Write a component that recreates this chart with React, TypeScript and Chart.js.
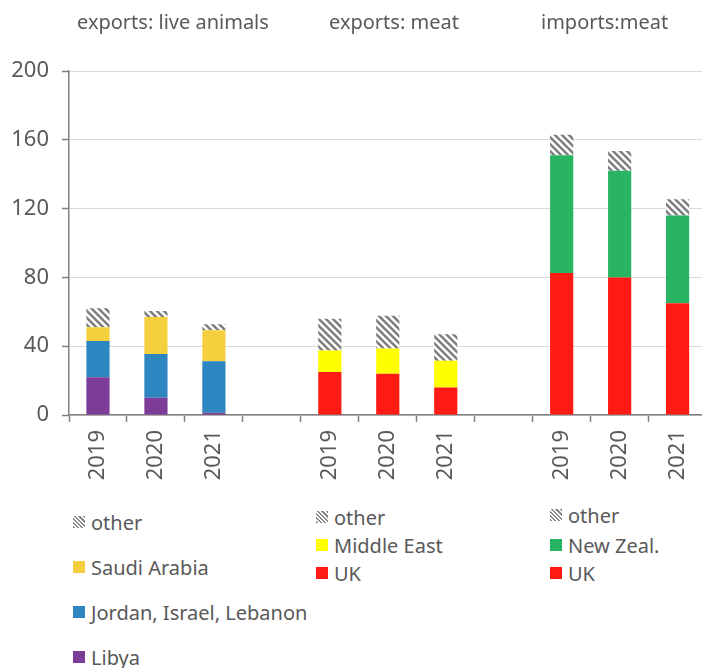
import React, { useEffect, useRef } from "react";
import { Chart, registerables } from "chart.js";

Chart.register(...registerables);

const categories = ["2019", "2020", "2021", "", "2019", "2020", "2021", "", "2019", "2020", "2021"];
const yTicks = [0, 40, 80, 120, 160, 200];

// exports: live animals (2019, 2020, 2021)
const liveLibya = [22, 10, 1.3];
const liveJordan = [21, 25.5, 30];
const liveSaudi = [8, 21.5, 18];
const liveOther = [11, 3.5, 3.5];

// exports: meat
const meatExpUK = [25, 24, 16];
const meatExpMiddleEast = [12.5, 14.7, 15.5];
const meatExpOther = [18.5, 19, 15.5];

// imports: meat
const meatImpUK = [82.5, 80, 65];
const meatImpNZ = [68.5, 62, 51];
const meatImpOther = [12, 11.5, 9.5];

const groupTitles = ["exports: live animals", "exports: meat", "imports:meat"];

const TEXT = "#595959";
const FONT = "'Noto Sans', 'DejaVu Sans', sans-serif";

function place(vals: number[], group: number): (number | null)[] {
  const out: (number | null)[] = categories.map(() => null);
  vals.forEach((v, i) => {
    out[group * 4 + i] = v;
  });
  return out;
}

function makeHatch(): CanvasPattern | string {
  const s = 7;
  const c = document.createElement("canvas");
  c.width = s;
  c.height = s;
  const ctx = c.getContext("2d");
  if (!ctx) return "#888";
  ctx.fillStyle = "#ffffff";
  ctx.fillRect(0, 0, s, s);
  ctx.strokeStyle = "#7f7f7f";
  ctx.lineWidth = 2.6;
  ctx.beginPath();
  ctx.moveTo(-1, -1);
  ctx.lineTo(s + 1, s + 1);
  ctx.moveTo(s - 1, -1);
  ctx.lineTo(s + 1, 1);
  ctx.moveTo(-1, s - 1);
  ctx.lineTo(1, s + 1);
  ctx.stroke();
  const p = ctx.createPattern(c, "repeat");
  return p || "#888";
}

const hatchCss =
  "repeating-linear-gradient(45deg, #8a8a8a 0px, #8a8a8a 1.5px, #ffffff 1.5px, #ffffff 3px)";

type Item = { label: string; color?: string; hatch?: boolean; y: number };

function Legend({ x, items }: { x: number; items: Item[] }) {
  return (
    <>
      {items.map((it, i) => (
        <div
          key={i}
          style={{
            position: "absolute",
            left: x,
            top: it.y - 13,
            height: 26,
            display: "flex",
            alignItems: "center",
            fontFamily: FONT,
            fontSize: 20,
            color: TEXT,
            whiteSpace: "nowrap",
          }}
        >
          <span
            style={{
              display: "inline-block",
              width: 12,
              height: 12,
              marginRight: 6,
              background: it.hatch ? hatchCss : it.color,
            }}
          />
          {it.label}
        </div>
      ))}
    </>
  );
}

export default function App() {
  const ref = useRef<HTMLCanvasElement>(null);

  useEffect(() => {
    if (!ref.current) return;
    const hatch = makeHatch();
    const ds = (label: string, data: (number | null)[], color: any) => ({
      label,
      data,
      backgroundColor: color,
      borderWidth: 0,
      stack: "s",
      categoryPercentage: 1,
      barPercentage: 0.4,
    });
    const chart = new Chart(ref.current, {
      type: "bar",
      data: {
        labels: categories,
        datasets: [
          ds("Libya", place(liveLibya, 0), "#7d3c98"),
          ds("Jordan, Israel, Lebanon", place(liveJordan, 0), "#2e86c1"),
          ds("Saudi Arabia", place(liveSaudi, 0), "#f4d03f"),
          ds("other", place(liveOther, 0), hatch),
          ds("UK", place(meatExpUK, 1), "#ff1a14"),
          ds("Middle East", place(meatExpMiddleEast, 1), "#ffff00"),
          ds("other", place(meatExpOther, 1), hatch),
          ds("UK", place(meatImpUK, 2), "#ff1a14"),
          ds("New Zeal.", place(meatImpNZ, 2), "#28b463"),
          ds("other", place(meatImpOther, 2), hatch),
        ],
      },
      options: {
        animation: false,
        responsive: false,
        maintainAspectRatio: false,
        layout: { padding: { top: 71, left: 0, right: 0, bottom: 0 } },
        plugins: { legend: { display: false }, tooltip: { enabled: false } },
        scales: {
          x: {
            stacked: true,
            offset: true,
            grid: {
              display: true,
              drawOnChartArea: false,
              drawTicks: true,
              tickLength: 7,
              tickColor: "#808080",
              tickWidth: 1.5,
              offset: true,
            },
            border: { color: "#808080", width: 1.5 },
            ticks: {
              autoSkip: false,
              minRotation: 90,
              maxRotation: 90,
              padding: 8,
              color: TEXT,
              font: { family: FONT, size: 22 },
            },
            afterFit: (scale: any) => {
              scale.height = 85;
            },
          },
          y: {
            stacked: true,
            min: 0,
            max: 200,
            afterBuildTicks: (scale: any) => {
              scale.ticks = yTicks.map((v) => ({ value: v }));
            },
            grid: {
              color: "#dadada",
              lineWidth: 1,
              drawTicks: true,
              tickLength: 7,
              tickColor: "#808080",
              tickWidth: 1.5,
            },
            border: { color: "#808080", width: 1.5 },
            ticks: {
              padding: 13,
              color: TEXT,
              font: { family: FONT, size: 22 },
            },
            afterFit: (scale: any) => {
              scale.width = 69;
            },
          },
        },
      },
    });
    return () => chart.destroy();
  }, []);

  const titleXs = [77, 329, 541];

  return (
    <div
      style={{
        position: "absolute",
        left: 0,
        top: 0,
        width: 702,
        height: 668,
        overflow: "hidden",
        background: "#fff",
      }}
    >
      <canvas ref={ref} width={712} height={500} style={{ position: "absolute", left: 0, top: 0 }} />
      {groupTitles.map((t, i) => (
        <div
          key={i}
          style={{
            position: "absolute",
            left: titleXs[i],
            top: 8,
            fontFamily: FONT,
            fontSize: 20,
            color: TEXT,
            whiteSpace: "nowrap",
          }}
        >
          {t}
        </div>
      ))}
      <Legend
        x={73}
        items={[
          { label: "other", hatch: true, y: 522 },
          { label: "Saudi Arabia", color: "#f4d03f", y: 567 },
          { label: "Jordan, Israel, Lebanon", color: "#2e86c1", y: 612 },
          { label: "Libya", color: "#7d3c98", y: 657 },
        ]}
      />
      <Legend
        x={316}
        items={[
          { label: "other", hatch: true, y: 517 },
          { label: "Middle East", color: "#ffff00", y: 545 },
          { label: "UK", color: "#ff1a14", y: 573 },
        ]}
      />
      <Legend
        x={550}
        items={[
          { label: "other", hatch: true, y: 515 },
          { label: "New Zeal.", color: "#28b463", y: 545 },
          { label: "UK", color: "#ff1a14", y: 573 },
        ]}
      />
    </div>
  );
}
